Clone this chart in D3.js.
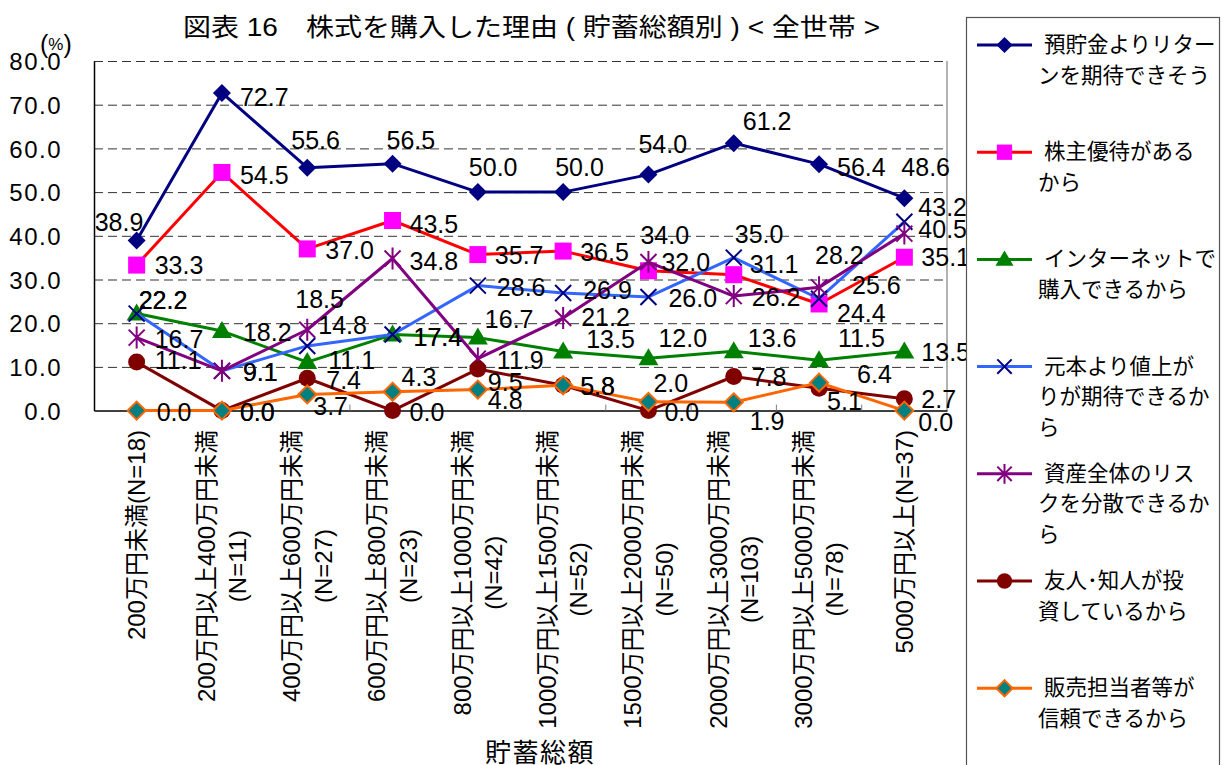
<!DOCTYPE html>
<html lang="ja">
<head>
<meta charset="utf-8">
<title>株式を購入した理由（貯蓄総額別）</title>
<script src="https://cdn.jsdelivr.net/npm/d3@7/dist/d3.min.js"></script>
<style>
  html, body { margin: 0; padding: 0; background: #ffffff; }
  svg { display: block; }
  text { font-family: "Liberation Sans", Arial, "Noto Sans CJK JP", sans-serif; fill: #000; }
</style>
</head>
<body>
<svg id="chart" width="1226" height="765"></svg>
<script>
// ---- data -------------------------------------------------------------
const categories = [
  "200万円未満(N=18)",
  "200万円以上400万円未満\n(N=11)",
  "400万円以上600万円未満\n(N=27)",
  "600万円以上800万円未満\n(N=23)",
  "800万円以上1000万円未満\n(N=42)",
  "1000万円以上1500万円未満\n(N=52)",
  "1500万円以上2000万円未満\n(N=50)",
  "2000万円以上3000万円未満\n(N=103)",
  "3000万円以上5000万円未満\n(N=78)",
  "5000万円以上(N=37)"
];

const seriesNames = [
  "預貯金よりリターンを期待できそう",
  "株主優待があるから",
  "インターネットで購入できるから",
  "元本より値上がりが期待できるから",
  "資産全体のリスクを分散できるから",
  "友人･知人が投資しているから",
  "販売担当者等が信頼できるから"
];

const returnExpected = [38.9, 72.7, 55.6, 56.5, 50.0, 50.0, 54.0, 61.2, 56.4, 48.6];
const shareholderPerks = [33.3, 54.5, 37.0, 43.5, 35.7, 36.5, 32.0, 31.1, 24.4, 35.1];
const buyOnline = [22.2, 18.2, 11.1, 17.4, 16.7, 13.5, 12.0, 13.6, 11.5, 13.5];
const priceGain = [22.2, 9.1, 14.8, 17.4, 28.6, 26.9, 26.0, 35.0, 25.6, 43.2];
const diversify = [16.7, 9.1, 18.5, 34.8, 11.9, 21.2, 34.0, 26.2, 28.2, 40.5];
const friendsInvest = [11.1, 0.0, 7.4, 0.0, 9.5, 5.8, 0.0, 7.8, 5.1, 2.7];
const trustAdvisor = [0.0, 0.0, 3.7, 4.3, 4.8, 5.8, 2.0, 1.9, 6.4, 0.0];

const yTicks = [0, 10, 20, 30, 40, 50, 60, 70, 80];

const titleText = "図表 16　株式を購入した理由 ( 貯蓄総額別 ) < 全世帯 >";
const xAxisTitle = "貯蓄総額";

// legend wording, broken into the lines shown in the key
const legendLines = [
  [" 預貯金よりリター", "ンを期待できそう"],
  [" 株主優待がある", "から"],
  [" インターネットで", "購入できるから"],
  [" 元本より値上が", "りが期待できるか", "ら"],
  [" 資産全体のリス", "クを分散できるか", "ら"],
  [" 友人･知人が投", "資しているから"],
  [" 販売担当者等が", "信頼できるから"]
];

// ---- styling ------------------------------------------------------------
const seriesStyle = [
  { line: "#000080", marker: "diamond", fill: "#000080", stroke: "none" },
  { line: "#FF0000", marker: "square", fill: "#FF00FF", stroke: "none" },
  { line: "#008000", marker: "triangle", fill: "#008000", stroke: "none" },
  { line: "#3366FF", marker: "cross", fill: "none", stroke: "#000080" },
  { line: "#800080", marker: "star", fill: "none", stroke: "#800080" },
  { line: "#800000", marker: "circle", fill: "#800000", stroke: "none" },
  { line: "#FF6600", marker: "diamond", fill: "#008080", stroke: "#FF6600" }
];

// hand-placed data-label offsets [dx, dy] from each point (label left edge, label middle)
const labelOffsets = [
  [[-42,-19],[18,4],[-16,-28],[-6,-24],[-9,-25],[-8,-25],[-10,-31],[9,-22],[18,3],[-3,-31]],
  [[18,0],[18,3],[18,1],[17,3],[17,0],[17,1],[13,-9],[16,-11],[18,9],[17,0]],
  [[2,-14],[21,1],[21,-2],[21,2],[7,-19],[23,-13],[10,-20],[14,-13],[19,-22],[17,0]],
  [[2,-14],[21,1],[11,-21],[21,2],[19,1],[20,-3],[20,1],[1,-24],[33,-14],[14,-15]],
  [[18,1],[21,1],[-12,-31],[17,2],[19,1],[18,-1],[-8,-27],[18,1],[-4,-32],[14,-5]],
  [[18,-2],[18,1],[19,2],[17,1],[10,13],[17,1],[16,1],[18,0],[8,13],[17,0]],
  [[20,1],[18,1],[6,12],[9,-15],[10,10],[17,1],[5,-19],[16,19],[38,-9],[14,11]]
];

const seriesValues = [returnExpected, shareholderPerks, buyOnline, priceGain, diversify, friendsInvest, trustAdvisor];

// ---- layout -------------------------------------------------------------
const plot = { left: 94, right: 947, top: 61, bottom: 410.6 };

const svg = d3.select("#chart");

const x = d3.scaleBand()
  .domain(d3.range(categories.length))
  .range([plot.left, plot.right])
  .paddingInner(0).paddingOuter(0);
const cx = i => x(i) + x.bandwidth() / 2;

const y = d3.scaleLinear().domain([0, 80]).range([plot.bottom, plot.top]);

// title (glyphs widened to the title's full span)
svg.append("text")
  .attr("x", 183)
  .attr("y", 36)
  .attr("textLength", 697)
  .attr("lengthAdjust", "spacingAndGlyphs")
  .style("font-size", "25px")
  .text(titleText);

// dashed gridlines
const grid = svg.append("g")
  .attr("transform", `translate(${plot.left},0)`)
  .call(d3.axisLeft(y).tickValues(yTicks.filter(d => d > 0)).tickSize(-(plot.right - plot.left)).tickFormat(""));
grid.select(".domain").remove();
grid.selectAll(".tick line")
  .attr("stroke", "#333")
  .attr("stroke-width", 1)
  .attr("stroke-dasharray", "9,5");

// right frame of the plot area
svg.append("line")
  .attr("x1", plot.right).attr("x2", plot.right)
  .attr("y1", plot.top).attr("y2", plot.bottom)
  .attr("stroke", "#7f7f7f").attr("stroke-width", 1.2);

// y axis
const yAxis = svg.append("g")
  .attr("transform", `translate(${plot.left},0)`)
  .call(d3.axisLeft(y).tickValues(yTicks).tickFormat(d3.format(".1f")).tickSize(0).tickSizeOuter(0).tickPadding(32));
yAxis.select(".domain").attr("stroke", "#000").attr("stroke-width", 1.5);
yAxis.selectAll(".tick text")
  .style("font-family", "'Liberation Sans', Arial, sans-serif")
  .style("font-size", "24px")
  .style("letter-spacing", "1.5px")
  .attr("dy", "0.36em");

// unit label
const unit = svg.append("text").attr("x", 40).attr("y", 53).style("font-size", "25px");
unit.append("tspan").text("(");
unit.append("tspan").style("font-size", "17px").attr("dy", -3).text("%");
unit.append("tspan").attr("dy", 3).text(")");

// x axis
const xAxis = svg.append("g")
  .attr("transform", `translate(0,${plot.bottom})`)
  .call(d3.axisBottom(x).tickSize(0).tickSizeOuter(0).tickFormat(""));
xAxis.select(".domain").attr("stroke", "#000").attr("stroke-width", 1.5);

// small inside ticks at category boundaries
svg.append("g").selectAll("line")
  .data(d3.range(1, categories.length))
  .join("line")
  .attr("x1", d => x(d)).attr("x2", d => x(d))
  .attr("y1", plot.bottom).attr("y2", plot.bottom - 6)
  .attr("stroke", "#7f7f7f").attr("stroke-width", 1);

// rotated category labels
const catGroups = svg.append("g").selectAll("g")
  .data(categories)
  .join("g")
  .attr("transform", (d, i) => `translate(${cx(i)},430) rotate(-90)`);

catGroups.each(function (d) {
  const g = d3.select(this);
  const lines = d.split("\n");
  const gap = 31.5;
  const texts = lines.map((ln, k) => g.append("text")
    .attr("y", (k - (lines.length - 1) / 2) * gap)
    .attr("dominant-baseline", "central")
    .attr("text-anchor", "middle")
    .style("font-size", "24px")
    .text(ln));
  const maxW = d3.max(texts, t => t.node().getComputedTextLength());
  texts.forEach(t => t.attr("x", -maxW / 2));
});

// x axis title (runs off the bottom edge)
svg.append("text")
  .attr("x", 540).attr("y", 753)
  .attr("text-anchor", "middle")
  .attr("dominant-baseline", "central")
  .style("font-size", "26px")
  .style("letter-spacing", "1.5px")
  .text(xAxisTitle);

// ---- markers ------------------------------------------------------------
function drawMarker(sel, type, style, scale) {
  const k = scale || 1;
  if (type === "diamond") {
    const r = 9 * k;
    sel.append("path")
      .attr("d", `M0,${-r}L${r},0L0,${r}L${-r},0Z`)
      .attr("fill", style.fill)
      .attr("stroke", style.stroke)
      .attr("stroke-width", style.stroke === "none" ? 0 : 2);
  } else if (type === "square") {
    const s = 8.5 * k;
    sel.append("rect")
      .attr("x", -s).attr("y", -s).attr("width", 2 * s).attr("height", 2 * s)
      .attr("fill", style.fill);
  } else if (type === "triangle") {
    const w = 10 * k;
    sel.append("path")
      .attr("d", `M0,${-10 * k}L${w},${7 * k}L${-w},${7 * k}Z`)
      .attr("fill", style.fill);
  } else if (type === "cross") {
    const r = 8 * k;
    sel.append("path")
      .attr("d", `M${-r},${-r}L${r},${r}M${-r},${r}L${r},${-r}`)
      .attr("stroke", style.stroke).attr("stroke-width", 2).attr("fill", "none");
  } else if (type === "star") {
    const r = 8 * k;
    sel.append("path")
      .attr("d", `M${-r},${-r}L${r},${r}M${-r},${r}L${r},${-r}M0,${-11 * k}L0,${11 * k}`)
      .attr("stroke", style.stroke).attr("stroke-width", 2).attr("fill", "none");
  } else if (type === "circle") {
    sel.append("circle").attr("r", 8.5 * k).attr("fill", style.fill);
  }
}

// ---- series -------------------------------------------------------------
const lineGen = d3.line().x((d, i) => cx(i)).y(d => y(d));

const seriesLayer = svg.append("g");
seriesValues.forEach((vals, s) => {
  const st = seriesStyle[s];
  const g = seriesLayer.append("g");
  g.append("path")
    .datum(vals)
    .attr("d", lineGen)
    .attr("fill", "none")
    .attr("stroke", st.line)
    .attr("stroke-width", 3)
    .attr("stroke-linejoin", "round");
  g.selectAll("g.pt")
    .data(vals)
    .join("g")
    .attr("class", "pt")
    .attr("transform", (d, i) => `translate(${cx(i)},${y(d)})`)
    .each(function () { drawMarker(d3.select(this), st.marker, st); });
});

// data labels on top
const labelLayer = svg.append("g");
seriesValues.forEach((vals, s) => {
  labelLayer.append("g").selectAll("text")
    .data(vals)
    .join("text")
    .attr("x", (d, i) => cx(i) + labelOffsets[s][i][0])
    .attr("y", (d, i) => y(d) + labelOffsets[s][i][1] + 9)
    .style("font-size", "25px")
    .text(d => d3.format(".1f")(d));
});

// ---- legend -------------------------------------------------------------
svg.append("rect")
  .attr("x", 966.5).attr("y", 17.5)
  .attr("width", 253).attr("height", 780)
  .attr("fill", "#fff")
  .attr("stroke", "#555").attr("stroke-width", 1.2);

const legend = svg.append("g").selectAll("g")
  .data(seriesNames)
  .join("g")
  .attr("transform", (d, i) => `translate(0,${45 + i * 107.2})`);

legend.each(function (name, i) {
  const g = d3.select(this);
  const st = seriesStyle[i];
  g.append("line")
    .attr("x1", 977).attr("x2", 1032)
    .attr("y1", 0).attr("y2", 0)
    .attr("stroke", st.line).attr("stroke-width", 3);
  const m = g.append("g").attr("transform", "translate(1004.5,0)");
  drawMarker(m, st.marker, st, 0.9);
  legendLines[i].forEach((ln, k) => {
    g.append("text")
      .attr("x", 1038)
      .attr("y", k * 30.5)
      .attr("dominant-baseline", "central")
      .style("font-size", "21.5px")
      .style("white-space", "pre")
      .attr("xml:space", "preserve")
      .text(ln);
  });
});
</script>
</body>
</html>
